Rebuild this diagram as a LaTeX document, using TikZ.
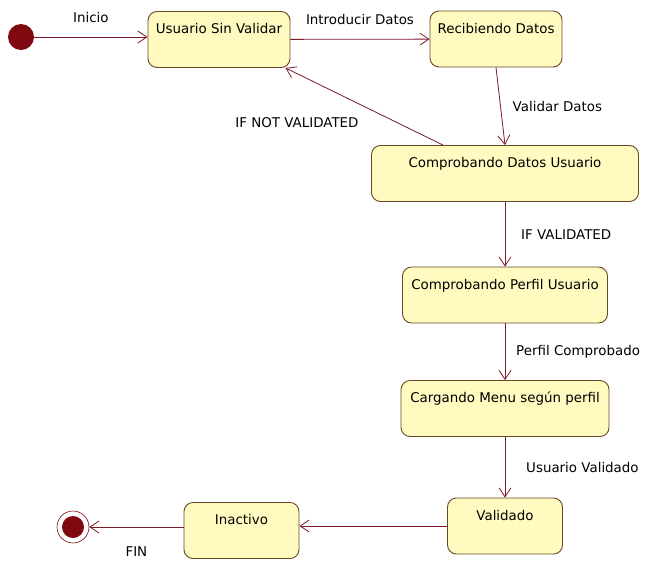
\documentclass[tikz,border=0pt]{standalone}
\usepackage{fontspec}
\setmainfont{DejaVu Sans}
\usepackage{xcolor}
\usepackage{tikz}
\usetikzlibrary{arrows.meta,calc}
\definecolor{statefill}{RGB}{255,250,192}
\definecolor{stateline}{RGB}{105,72,38}
\definecolor{transclr}{RGB}{122,28,42}
\definecolor{dotclr}{RGB}{128,8,16}

\begin{document}
\begin{tikzpicture}[x=1pt,y=-1pt,
  state/.style={draw=stateline,fill=statefill,line width=0.9pt,rounded corners=9pt,
    minimum height=56pt,inner xsep=3pt,inner ysep=3pt,text height=19pt,text depth=31pt,
    font=\fontsize{13.4}{15}\selectfont},
  trans/.style={draw=transclr,line width=0.8pt,-{Straight Barb[length=9pt,width=12pt]}},
  lbl/.style={font=\fontsize{13.4}{15}\selectfont}]
  \useasboundingbox[fill=white] (0,0) rectangle (647,560);
  % Start and end
  \node[circle,fill=dotclr,minimum size=26pt,inner sep=0pt] (init) at (21,37) {};
  \node[circle,draw=dotclr,line width=0.6pt,minimum size=32pt,inner sep=0pt] (fin) at (73,527) {};
  \fill[dotclr] (fin) circle (11pt);
  % States
  \node[state,minimum width=142pt] (usr)   at (219,39.5) {Usuario Sin Validar};
  \node[state,minimum width=132pt] (rec)   at (496,39)   {Recibiendo Datos};
  \node[state,minimum width=267pt] (cdat)  at (505,173.5) {Comprobando Datos Usuario};
  \node[state,minimum width=205pt] (cperf) at (505,295)  {Comprobando Perfil Usuario};
  \node[state,minimum width=208pt] (carg)  at (505,408.5) {Cargando Menu según perfil};
  \node[state,minimum width=115pt] (valid) at (505,526)  {Validado};
  \node[state,minimum width=115pt] (inact) at (241.5,530.5) {Inactivo};
  % Transitions
  \draw[trans] (init) -- node[lbl,above=10.5pt] {Inicio} (init -| usr.west);
  \draw[trans] (usr) -- node[lbl,above=11pt] {Introducir Datos} (rec);
  \draw[trans] (rec.south) -- node[lbl,right=8.5pt] {Validar Datos} (cdat.north);
  \draw[trans] ($(cdat.north)+(-62,0)$) -- node[lbl,anchor=north east,xshift=-2pt,yshift=-7pt] {IF NOT VALIDATED} ($(usr.south east)+(-5,0)$);
  \draw[trans] (cdat) -- node[lbl,right=12.5pt] {IF VALIDATED} (cperf);
  \draw[trans] (cperf) -- node[lbl,right=7.5pt] {Perfil Comprobado} (carg);
  \draw[trans] (carg) -- node[lbl,right=17.5pt] {Usuario Validado} (valid);
  \draw[trans] (valid.west) -- (valid.west -| inact.east);
  \draw[trans] (fin -| inact.west) -- node[lbl,below=15.5pt] {FIN} (fin);
\end{tikzpicture}
\end{document}
